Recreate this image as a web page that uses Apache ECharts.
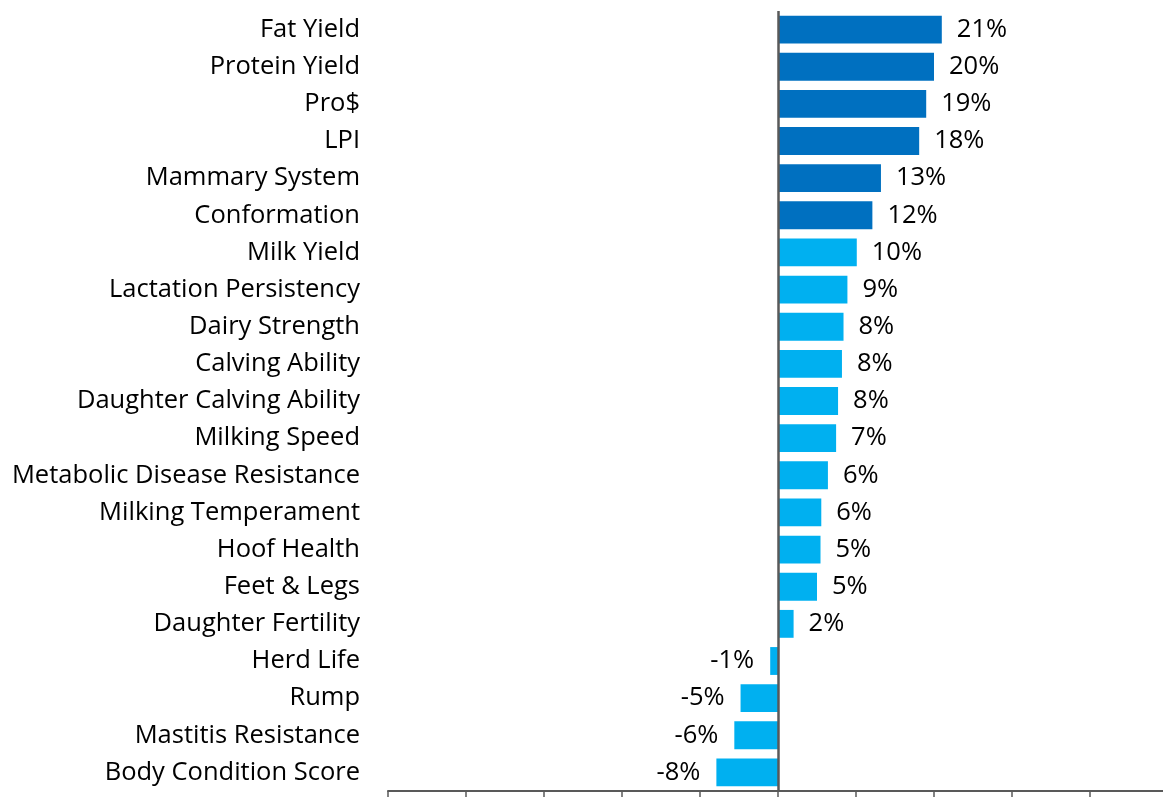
<!DOCTYPE html>
<html><head><meta charset="utf-8">
<script src="https://cdn.jsdelivr.net/npm/echarts@6/dist/echarts.min.js"></script>
<style>html,body{margin:0;padding:0;background:#fff}#c{width:1163px;height:797px}</style>
</head><body><div id="c"></div>
<script>
const categories = ["Fat Yield","Protein Yield","Pro$","LPI","Mammary System","Conformation","Milk Yield","Lactation Persistency","Dairy Strength","Calving Ability","Daughter Calving Ability","Milking Speed","Metabolic Disease Resistance","Milking Temperament","Hoof Health","Feet & Legs","Daughter Fertility","Herd Life","Rump","Mastitis Resistance","Body Condition Score"];
const values = [21.0,20.0,19.0,18.1,13.2,12.1,10.1,8.9,8.4,8.2,7.7,7.45,6.4,5.55,5.45,5.0,2.0,-1.0,-4.8,-5.6,-7.9];
const highlightCount = 6;
const axisMin = -50, axisMax = 50, axisStep = 10;

const FONT = 'Open Sans';
const chart = echarts.init(document.getElementById('c'), null, {renderer:'canvas'});
const data = values.map((v,i)=>({
  value: v,
  itemStyle: {color: i < highlightCount ? '#0070C0' : '#00B0F0'},
  label: {position: v < 0 ? 'left' : 'right', distance: v < 0 ? 16 : 15}
}));
chart.setOption({
  animation:false,
  grid:{left:388, top:11, width:780, height:780, containLabel:false, outerBoundsMode:'none'},
  xAxis:{type:'value', min:axisMin, max:axisMax, interval:axisStep,
    axisLine:{show:true, onZero:false, lineStyle:{color:'#595959', width:2}},
    axisTick:{show:true, length:6, lineStyle:{color:'#595959', width:1.5}},
    axisLabel:{show:false}, splitLine:{show:false}},
  yAxis:{type:'category', data:categories, inverse:true,
    axisLine:{show:false}, axisTick:{show:false},
    axisLabel:{margin:28, color:'#000', fontFamily:FONT, fontSize:25.5, padding:[2,0,0,0]}},
  series:[{type:'bar', data:data, barCategoryGap:'25%',
    label:{show:true, color:'#000', fontFamily:FONT, fontSize:25.5, padding:[3,0,0,0],
      formatter:p=>Math.round(p.value)+'%'},
    markLine:{silent:true, symbol:'none', label:{show:false},
      lineStyle:{color:'#595959', width:2.5, type:'solid'},
      data:[{xAxis:0}]}
  }]
});
</script></body></html>
